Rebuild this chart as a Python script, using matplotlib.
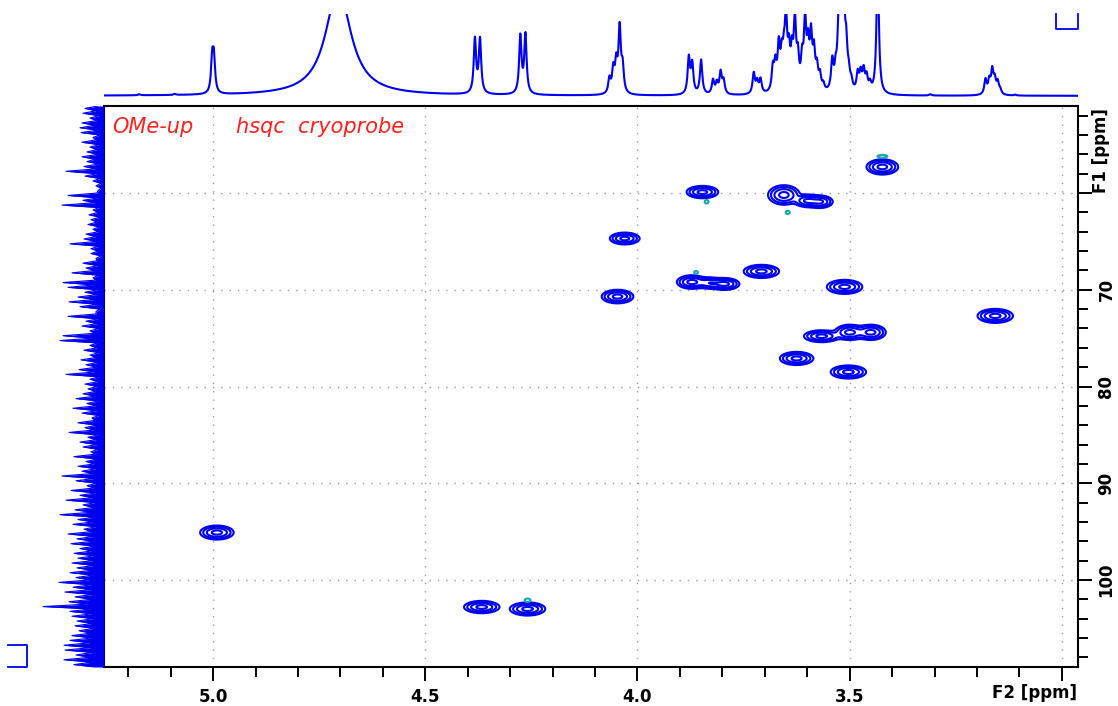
"""
HSQC spectrum (OMe-up, cryoprobe) with the 1H projection on top
and the 13C projection on the left, laid out like a TopSpin plot.
"""
import numpy as np
import matplotlib
matplotlib.use("Agg")
import matplotlib.pyplot as plt
from matplotlib.lines import Line2D
from matplotlib.ticker import MultipleLocator

# ---- data -------------------------------------------------------------------
# 1H projection: individual lines (ppm, relative height)
h1_ppm = [5.174, 5.090, 5.002, 4.998,
          4.383, 4.371, 4.276, 4.264,
          4.066, 4.057, 4.050, 4.042, 4.035,
          3.879, 3.871, 3.850, 3.822, 3.813, 3.804, 3.797,
          3.726, 3.718, 3.710,
          3.681, 3.675, 3.667, 3.660, 3.655, 3.650, 3.643, 3.636, 3.629,
          3.622, 3.612, 3.605, 3.598, 3.591, 3.584, 3.577, 3.570, 3.562,
          3.541, 3.533, 3.526, 3.520, 3.514, 3.508, 3.502, 3.496,
          3.481, 3.474, 3.467, 3.460, 3.452,
          3.434,
          3.310, 3.180, 3.171, 3.164, 3.158, 3.151, 3.145, 3.110]
h1_height = [0.012, 0.012, 0.40, 0.40,
             0.66, 0.66, 0.70, 0.72,
             0.18, 0.28, 0.34, 0.78, 0.30,
             0.44, 0.36, 0.42, 0.17, 0.13, 0.26, 0.16,
             0.25, 0.14, 0.17,
             0.28, 0.30, 0.52, 0.36, 0.32, 0.80, 0.42, 0.40, 0.80,
             0.36, 0.34, 0.80, 0.48, 0.62, 0.44, 0.26, 0.18, 0.08,
             0.36, 0.22, 0.74, 0.82, 1.00, 0.48, 0.17, 0.10,
             0.22, 0.22, 0.25, 0.18, 0.10,
             1.60,
             0.015, 0.18, 0.16, 0.28, 0.16, 0.14, 0.05, 0.010]
# residual water (broad)
hod_ppm, hod_height, hod_hwhm = 4.705, 1.30, 0.036

# HSQC cross peaks: F2 (1H), F1 (13C), Gaussian widths (ppm), amplitude
peak_f2 = [3.423, 3.847, 3.655, 3.600, 3.570, 4.030, 4.047, 3.872, 3.830,
           3.795, 3.708, 3.512, 3.566, 3.500, 3.450, 3.625, 3.503, 3.157,
           4.991, 4.367, 4.259]
peak_f1 = [57.3, 59.9, 60.2, 60.8, 60.9, 64.7, 70.7, 69.2, 69.3,
           69.4, 68.1, 69.7, 74.8, 74.4, 74.4, 77.1, 78.5, 72.7,
           95.1, 102.8, 103.0]
peak_w2 = [0.017, 0.017, 0.017, 0.014, 0.014, 0.016, 0.017, 0.016, 0.014,
           0.016, 0.019, 0.019, 0.019, 0.016, 0.016, 0.018, 0.019, 0.019,
           0.018, 0.019, 0.019]
peak_w1 = [0.36, 0.29, 0.46, 0.30, 0.30, 0.28, 0.32, 0.32, 0.28,
           0.28, 0.31, 0.33, 0.28, 0.36, 0.36, 0.31, 0.31, 0.33,
           0.33, 0.29, 0.31]
peak_amp = [1.0, 1.0, 1.0, 0.9, 0.9, 1.0, 1.0, 1.0, 0.7,
            1.0, 1.0, 1.0, 1.0, 1.0, 1.0, 1.0, 1.0, 1.0,
            1.0, 1.0, 1.0]

# small negative artefacts (cyan)
neg_f2 = [3.423, 3.837, 3.646, 3.862, 4.259]
neg_f1 = [56.2, 60.9, 62.0, 68.2, 102.1]
neg_w2 = [0.010, 0.004, 0.004, 0.004, 0.006]
neg_w1 = [0.12, 0.15, 0.15, 0.12, 0.15]

# 13C projection: noise spikes (tips) and the valleys between them,
# valleys every 0.5 ppm from 51.0, tips halfway between
c13_start = 51.0
c13_tips = [19, 21, 14, 22, 24, 23, 11, 22, 14, 17,
            22, 17, 20, 38, 19, 11, 8, 6, 36, 21,
            42, 11, 15, 13, 16, 11, 18, 20, 34, 13,
            13, 8, 21, 18, 32, 11, 41, 36, 19, 26,
            35, 24, 8, 36, 18, 22, 14, 41, 44, 14,
            20, 14, 23, 18, 25, 38, 14, 19, 16, 21,
            28, 17, 31, 22, 12, 26, 19, 35, 16, 24,
            21, 13, 30, 18, 26, 22, 42, 28, 17, 33,
            24, 38, 21, 29, 44, 26, 31, 20, 36, 27,
            33, 24, 30, 26, 32, 27, 34, 28, 45, 31,
            39, 29, 35, 61, 34, 32, 27, 29, 25, 32,
            34, 40, 39, 28, 40, 30]
c13_valleys = [6, 8, 5, 7, 9, 6, 4, 8, 5, 7,
               6, 9, 5, 8, 7, 4, 3, 3, 7, 6,
               9, 5, 6, 4, 7, 5, 6, 8, 7, 5,
               6, 3, 7, 6, 9, 5, 8, 10, 6, 7,
               9, 6, 4, 8, 6, 7, 5, 9, 11, 6,
               7, 5, 8, 6, 7, 9, 5, 6, 7, 8,
               9, 6, 8, 7, 5, 9, 7, 10, 6, 8,
               7, 6, 9, 7, 10, 8, 11, 9, 7, 10,
               8, 11, 9, 10, 12, 9, 11, 8, 12, 10,
               11, 9, 12, 10, 11, 10, 12, 11, 14, 12,
               13, 11, 12, 16, 13, 12, 11, 12, 10, 13,
               12, 14, 13, 11, 14, 12, 10]

x_ticks = [5.0, 4.5, 4.0, 3.5, 3.0]
x_labels = ["5.0", "4.5", "4.0", "3.5", ""]
y_ticks = [60, 70, 80, 90, 100]
y_labels = ["", "70", "80", "90", "100"]

# ---- style ------------------------------------------------------------------
FIG_W, FIG_H = 1118, 706
BLUE = "#0000F0"
CYAN = "#18A8A8"
RED = "#FF2020"
F2_LIM = (5.257, 2.962)
F1_LIM = (109.0, 51.0)
H1_HWHM = 0.0033
LEVELS = [0.09, 0.2, 0.42, 0.8]


def px_box(x0, y0, x1, y1):
    """axes rect in figure fractions from pixel corners (origin top-left)"""
    return [x0 / FIG_W, 1 - y1 / FIG_H, (x1 - x0) / FIG_W, (y1 - y0) / FIG_H]


def px_line(fig, pts):
    xs = [p[0] / FIG_W for p in pts]
    ys = [1 - p[1] / FIG_H for p in pts]
    fig.add_artist(Line2D(xs, ys, color=BLUE, lw=1.3,
                          transform=fig.transFigure))


def gauss_surface(xg, yg, f2, f1, w2, w1, amp):
    z = np.zeros((yg.size, xg.size))
    for p2, p1, s2, s1, a in zip(f2, f1, w2, w1, amp):
        gx = np.exp(-0.5 * ((xg - p2) / s2) ** 2)
        gy = np.exp(-0.5 * ((yg - p1) / s1) ** 2)
        z += a * np.outer(gy, gx)
    return z


fig = plt.figure(figsize=(FIG_W / 100, FIG_H / 100), dpi=100)
ax = fig.add_axes(px_box(104, 106, 1078, 667))
ax_top = fig.add_axes(px_box(104, 14, 1078, 100))
ax_left = fig.add_axes(px_box(0, 106, 104, 667))

# ---- 2D contours ------------------------------------------------------------
xg = np.linspace(2.95, 5.27, 1200)
yg = np.linspace(50.5, 109.5, 900)
z_pos = gauss_surface(xg, yg, peak_f2, peak_f1, peak_w2, peak_w1, peak_amp)
z_neg = gauss_surface(xg, yg, neg_f2, neg_f1, neg_w2, neg_w1,
                      [1.0] * len(neg_f2))
ax.contour(xg, yg, z_pos, levels=LEVELS, colors=BLUE, linewidths=1.5)
ax.contour(xg, yg, z_neg, levels=[0.5], colors=CYAN, linewidths=1.5)

ax.set_xlim(*F2_LIM)
ax.set_ylim(*F1_LIM)
ax.set_axisbelow(True)
ax.grid(True, which="major", color="#9a9a9a",
        linestyle=(0, (1, 5)), linewidth=1.0)

ax.set_xticks(x_ticks)
ax.set_xticklabels(x_labels, fontsize=12, fontweight="bold")
ax.xaxis.set_minor_locator(MultipleLocator(0.1))
ax.tick_params(axis="x", which="major", length=10, width=1.4,
               direction="out", pad=5)
ax.tick_params(axis="x", which="minor", length=7, width=1.4,
               direction="out")

ax.yaxis.tick_right()
ax.set_yticks(y_ticks)
ax.set_yticklabels(y_labels, fontsize=12, fontweight="bold",
                   rotation=90, va="center")
ax.yaxis.set_minor_locator(MultipleLocator(2))
ax.tick_params(axis="y", which="major", length=10, width=1.4,
               direction="out", pad=4)
ax.tick_params(axis="y", which="minor", length=7, width=1.4,
               direction="out")
for s in ax.spines.values():
    s.set_linewidth(1.5)

ax.annotate("F2 [ppm]", xy=(1, 0), xycoords="axes fraction",
            xytext=(-1, -12.2), textcoords="offset points",
            ha="right", va="top", fontsize=12, fontweight="bold")
ax.annotate("F1 [ppm]", xy=(1, 60), xycoords=("axes fraction", "data"),
            xytext=(10.3, 0), textcoords="offset points", rotation=90,
            ha="left", va="bottom", fontsize=12, fontweight="bold")

ax.text(0.008, 0.962, "OMe-up", transform=ax.transAxes, color=RED,
        fontsize=15, fontstyle="italic", va="center", ha="left")
ax.text(0.1355, 0.962, "hsqc  cryoprobe", transform=ax.transAxes,
        color=RED, fontsize=15, fontstyle="italic", va="center", ha="left")

# ---- 1H projection (top) ----------------------------------------------------
xs = np.linspace(2.9, 5.3, 5000)
spec = hod_height / (1 + ((xs - hod_ppm) / hod_hwhm) ** 2)
for p, h in zip(h1_ppm, h1_height):
    spec += h / (1 + ((xs - p) / H1_HWHM) ** 2)
ax_top.plot(xs, spec, color=BLUE, lw=1.5)
ax_top.set_xlim(*F2_LIM)
ax_top.set_ylim(-0.05, 1.0)
ax_top.axis("off")

# ---- 13C projection (left) --------------------------------------------------
proj = np.empty(len(c13_valleys) + len(c13_tips))
proj[0::2] = c13_valleys
proj[1::2] = c13_tips
ys = c13_start + 0.25 * np.arange(proj.size)
ax_left.fill_betweenx(ys, 0, proj, color=BLUE, lw=0)
ax_left.plot(proj, ys, color=BLUE, lw=0.8)
ax_left.set_xlim(104, 0)
ax_left.set_ylim(*F1_LIM)
ax_left.axis("off")

# TopSpin corner markers
px_line(fig, [(1056, 14), (1056, 29), (1078, 29), (1078, 14)])
px_line(fig, [(8, 645), (27, 645), (27, 667), (8, 667)])

fig.savefig("out.png", dpi=100)
